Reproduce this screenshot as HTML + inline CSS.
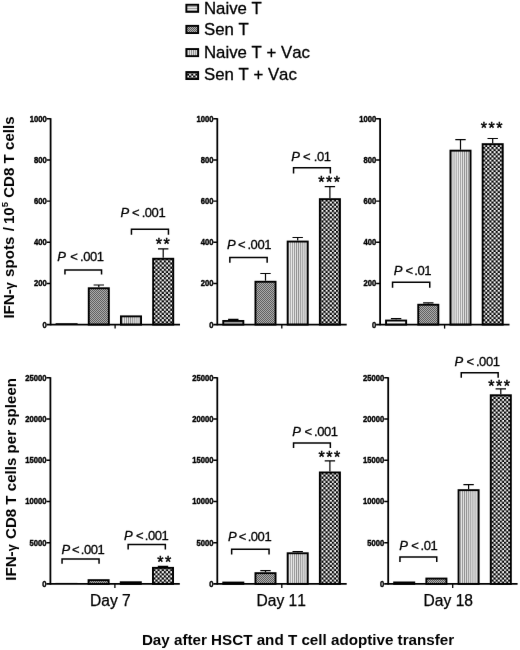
<!DOCTYPE html>
<html><head><meta charset="utf-8"><title>Figure</title>
<style>
html,body{margin:0;padding:0;background:#fff;}
body{width:520px;height:650px;overflow:hidden;}
svg{display:block;}
text{font-family:"Liberation Sans",sans-serif;fill:#000;font-kerning:none;}
.tk{font-weight:bold;font-size:8.5px;text-anchor:end;stroke:#000;stroke-width:0.4px;}
.an{font-size:13px;letter-spacing:-0.45px;stroke:#000;stroke-width:0.3px;}
.pi{font-size:13px;font-style:italic;stroke:#000;stroke-width:0.3px;}
.st{font-size:16px;text-anchor:middle;stroke:#000;stroke-width:0.45px;}
.day{font-size:15.6px;stroke:#000;stroke-width:0.25px;}
.lg{font-size:16.8px;stroke:#000;stroke-width:0.3px;}
.yt{font-weight:bold;font-size:15.1px;}
.xt{font-weight:bold;font-size:15.2px;}
</style></head><body>
<svg width="520" height="650" viewBox="0 0 520 650">
<defs>
<pattern id="pN" width="4" height="2" patternUnits="userSpaceOnUse"><rect width="4" height="2" fill="#e6e6e6"/><rect y="0" width="4" height="0.9" fill="#9a9a9a"/></pattern>
<pattern id="pS" width="2" height="2" patternUnits="userSpaceOnUse"><rect width="2" height="2" fill="#b4b4b4"/><rect width="1" height="1" fill="#585858"/><rect x="1" y="1" width="1" height="1" fill="#585858"/></pattern>
<pattern id="pNV" width="2.1" height="4" patternUnits="userSpaceOnUse"><rect width="2.1" height="4" fill="#ececec"/><rect x="0" width="0.9" height="4" fill="#8a8a8a"/></pattern>
<pattern id="pSV" width="4.2" height="4.2" patternUnits="userSpaceOnUse"><rect width="4.2" height="4.2" fill="#000"/><rect x="2.2" y="0" width="2" height="2" fill="#fff"/><rect x="0.1" y="2.1" width="2" height="2" fill="#fff"/></pattern>
<filter id="soft" x="0" y="0" width="520" height="650" filterUnits="userSpaceOnUse" color-interpolation-filters="sRGB"><feConvolveMatrix order="3" kernelMatrix="0.0016 0.0371 0.0016 0.0371 0.8450 0.0371 0.0016 0.0371 0.0016" edgeMode="duplicate" preserveAlpha="true"/></filter>
</defs>
<g filter="url(#soft)">
<rect width="520" height="650" fill="#fff"/>

<g id="legend">
<rect x="186.35" y="4.75" width="11.8" height="7.1" fill="url(#pN)" stroke="#000" stroke-width="1.9"/>
<text class="lg" x="204" y="13.5">Naive T</text>
<rect x="186.35" y="25.85" width="11.8" height="7.2" fill="url(#pS)" stroke="#000" stroke-width="1.9"/>
<text class="lg" x="204" y="34.7">Sen T</text>
<rect x="186.35" y="49.05" width="11.8" height="7.1" fill="url(#pNV)" stroke="#000" stroke-width="1.9"/>
<text class="lg" x="204" y="57.8">Naive T + Vac</text>
<rect x="186.35" y="72.05" width="11.8" height="7" fill="url(#pSV)" stroke="#000" stroke-width="1.9"/>
<text class="lg" x="204" y="80.4">Sen T + Vac</text>
</g>
<g id="T1">
<rect x="55.6" y="323.1" width="22" height="1.5" fill="#222"/>
<path d="M98.8 287.3 V285 M93.6 285 H104" stroke="#000" stroke-width="1.2" fill="none"/>
<rect x="88.75" y="288.25" width="20.1" height="36.35" fill="url(#pS)" stroke="#000" stroke-width="1.9"/>
<rect x="120.95" y="316.35" width="20.1" height="8.25" fill="url(#pNV)" stroke="#000" stroke-width="1.9"/>
<path d="M163.2 257.8 V248.8 M158 248.8 H168.4" stroke="#000" stroke-width="1.2" fill="none"/>
<rect x="153.15" y="258.75" width="20.1" height="65.85" fill="url(#pSV)" stroke="#000" stroke-width="1.9"/>
<path d="M50.6 118.2 V325.3" stroke="#000" stroke-width="1.8" fill="none"/>
<path d="M46.6 324.6 H180" stroke="#000" stroke-width="1.6" fill="none"/>
<path d="M115.1 324.6 V328.6" stroke="#000" stroke-width="1.3" fill="none"/>
<path d="M46.6 283.44 H50.6M46.6 242.28 H50.6M46.6 201.12 H50.6M46.6 159.96 H50.6M46.6 118.8 H50.6" stroke="#000" stroke-width="1.4" fill="none"/>
<text class="tk" transform="translate(46.7 327.6) scale(0.9 1)">0</text>
<text class="tk" transform="translate(46.7 286.44) scale(0.9 1)">200</text>
<text class="tk" transform="translate(46.7 245.28) scale(0.9 1)">400</text>
<text class="tk" transform="translate(46.7 204.12) scale(0.9 1)">600</text>
<text class="tk" transform="translate(46.7 162.96) scale(0.9 1)">800</text>
<text class="tk" transform="translate(46.7 121.8) scale(0.9 1)">1000</text>
</g>
<g id="T2">
<path d="M233.3 320 V319.4 M228.1 319.4 H238.5" stroke="#000" stroke-width="1.2" fill="none"/>
<rect x="223.25" y="320.95" width="20.1" height="3.65" fill="url(#pN)" stroke="#000" stroke-width="1.9"/>
<path d="M265.5 280.8 V273.5 M260.3 273.5 H270.7" stroke="#000" stroke-width="1.2" fill="none"/>
<rect x="255.45" y="281.75" width="20.1" height="42.85" fill="url(#pS)" stroke="#000" stroke-width="1.9"/>
<path d="M297.7 240.6 V237.5 M292.5 237.5 H302.9" stroke="#000" stroke-width="1.2" fill="none"/>
<rect x="287.65" y="241.55" width="20.1" height="83.05" fill="url(#pNV)" stroke="#000" stroke-width="1.9"/>
<path d="M329.9 198.2 V186.6 M324.7 186.6 H335.1" stroke="#000" stroke-width="1.2" fill="none"/>
<rect x="319.85" y="199.15" width="20.1" height="125.45" fill="url(#pSV)" stroke="#000" stroke-width="1.9"/>
<path d="M217.3 118.2 V325.3" stroke="#000" stroke-width="1.8" fill="none"/>
<path d="M213.3 324.6 H346.7" stroke="#000" stroke-width="1.6" fill="none"/>
<path d="M281.8 324.6 V328.6" stroke="#000" stroke-width="1.3" fill="none"/>
<path d="M213.3 283.44 H217.3M213.3 242.28 H217.3M213.3 201.12 H217.3M213.3 159.96 H217.3M213.3 118.8 H217.3" stroke="#000" stroke-width="1.4" fill="none"/>
<text class="tk" transform="translate(213.4 327.6) scale(0.9 1)">0</text>
<text class="tk" transform="translate(213.4 286.44) scale(0.9 1)">200</text>
<text class="tk" transform="translate(213.4 245.28) scale(0.9 1)">400</text>
<text class="tk" transform="translate(213.4 204.12) scale(0.9 1)">600</text>
<text class="tk" transform="translate(213.4 162.96) scale(0.9 1)">800</text>
<text class="tk" transform="translate(213.4 121.8) scale(0.9 1)">1000</text>
</g>
<g id="T3">
<path d="M396.1 319.6 V318.6 M390.9 318.6 H401.3" stroke="#000" stroke-width="1.2" fill="none"/>
<rect x="386.05" y="320.55" width="20.1" height="4.05" fill="#f6f6f6" stroke="#000" stroke-width="1.9"/>
<path d="M428.3 303.8 V302.9 M423.1 302.9 H433.5" stroke="#000" stroke-width="1.2" fill="none"/>
<rect x="418.25" y="304.75" width="20.1" height="19.85" fill="url(#pS)" stroke="#000" stroke-width="1.9"/>
<path d="M460.5 149.7 V139.6 M455.3 139.6 H465.7" stroke="#000" stroke-width="1.2" fill="none"/>
<rect x="450.45" y="150.65" width="20.1" height="173.95" fill="url(#pNV)" stroke="#000" stroke-width="1.9"/>
<path d="M492.7 143.2 V138.5 M487.5 138.5 H497.9" stroke="#000" stroke-width="1.2" fill="none"/>
<rect x="482.65" y="144.15" width="20.1" height="180.45" fill="url(#pSV)" stroke="#000" stroke-width="1.9"/>
<path d="M380.1 118.2 V325.3" stroke="#000" stroke-width="1.8" fill="none"/>
<path d="M376.1 324.6 H509.5" stroke="#000" stroke-width="1.6" fill="none"/>
<path d="M444.6 324.6 V328.6" stroke="#000" stroke-width="1.3" fill="none"/>
<path d="M376.1 283.44 H380.1M376.1 242.28 H380.1M376.1 201.12 H380.1M376.1 159.96 H380.1M376.1 118.8 H380.1" stroke="#000" stroke-width="1.4" fill="none"/>
<text class="tk" transform="translate(376.2 327.6) scale(0.9 1)">0</text>
<text class="tk" transform="translate(376.2 286.44) scale(0.9 1)">200</text>
<text class="tk" transform="translate(376.2 245.28) scale(0.9 1)">400</text>
<text class="tk" transform="translate(376.2 204.12) scale(0.9 1)">600</text>
<text class="tk" transform="translate(376.2 162.96) scale(0.9 1)">800</text>
<text class="tk" transform="translate(376.2 121.8) scale(0.9 1)">1000</text>
</g>
<g id="B1">
<rect x="55.4" y="582.9" width="22" height="1" fill="#222"/>
<rect x="88.55" y="580.15" width="20.1" height="3.75" fill="url(#pS)" stroke="#000" stroke-width="1.9"/>
<rect x="120.75" y="582.25" width="20.1" height="1.65" fill="url(#pNV)" stroke="#000" stroke-width="1.9"/>
<path d="M163 566.9 V566.3 M157.8 566.3 H168.2" stroke="#000" stroke-width="1.2" fill="none"/>
<rect x="152.95" y="567.85" width="20.1" height="16.05" fill="url(#pSV)" stroke="#000" stroke-width="1.9"/>
<path d="M50.4 377.2 V584.6" stroke="#000" stroke-width="1.8" fill="none"/>
<path d="M46.4 583.9 H179.8" stroke="#000" stroke-width="1.6" fill="none"/>
<path d="M114.9 583.9 V587.9" stroke="#000" stroke-width="1.3" fill="none"/>
<path d="M46.4 542.68 H50.4M46.4 501.46 H50.4M46.4 460.24 H50.4M46.4 419.02 H50.4M46.4 377.8 H50.4" stroke="#000" stroke-width="1.4" fill="none"/>
<text class="tk" transform="translate(46.5 586.9) scale(0.9 1)">0</text>
<text class="tk" transform="translate(46.5 545.68) scale(0.9 1)">5000</text>
<text class="tk" transform="translate(46.5 504.46) scale(0.9 1)">10000</text>
<text class="tk" transform="translate(46.5 463.24) scale(0.9 1)">15000</text>
<text class="tk" transform="translate(46.5 422.02) scale(0.9 1)">20000</text>
<text class="tk" transform="translate(46.5 380.8) scale(0.9 1)">25000</text>
</g>
<g id="B2">
<rect x="223.25" y="582.55" width="20.1" height="1.35" fill="url(#pN)" stroke="#000" stroke-width="1.9"/>
<path d="M265.5 572.2 V570.7 M260.3 570.7 H270.7" stroke="#000" stroke-width="1.2" fill="none"/>
<rect x="255.45" y="573.15" width="20.1" height="10.75" fill="url(#pS)" stroke="#000" stroke-width="1.9"/>
<path d="M297.7 552.3 V551.5 M292.5 551.5 H302.9" stroke="#000" stroke-width="1.2" fill="none"/>
<rect x="287.65" y="553.25" width="20.1" height="30.65" fill="url(#pNV)" stroke="#000" stroke-width="1.9"/>
<path d="M329.9 471.5 V460.8 M324.7 460.8 H335.1" stroke="#000" stroke-width="1.2" fill="none"/>
<rect x="319.85" y="472.45" width="20.1" height="111.45" fill="url(#pSV)" stroke="#000" stroke-width="1.9"/>
<path d="M217.3 377.2 V584.6" stroke="#000" stroke-width="1.8" fill="none"/>
<path d="M213.3 583.9 H346.7" stroke="#000" stroke-width="1.6" fill="none"/>
<path d="M281.8 583.9 V587.9" stroke="#000" stroke-width="1.3" fill="none"/>
<path d="M213.3 542.68 H217.3M213.3 501.46 H217.3M213.3 460.24 H217.3M213.3 419.02 H217.3M213.3 377.8 H217.3" stroke="#000" stroke-width="1.4" fill="none"/>
<text class="tk" transform="translate(213.4 586.9) scale(0.9 1)">0</text>
<text class="tk" transform="translate(213.4 545.68) scale(0.9 1)">5000</text>
<text class="tk" transform="translate(213.4 504.46) scale(0.9 1)">10000</text>
<text class="tk" transform="translate(213.4 463.24) scale(0.9 1)">15000</text>
<text class="tk" transform="translate(213.4 422.02) scale(0.9 1)">20000</text>
<text class="tk" transform="translate(213.4 380.8) scale(0.9 1)">25000</text>
</g>
<g id="B3">
<rect x="394.15" y="582.45" width="20.1" height="1.45" fill="url(#pN)" stroke="#000" stroke-width="1.9"/>
<rect x="426.35" y="578.55" width="20.1" height="5.35" fill="url(#pS)" stroke="#000" stroke-width="1.9"/>
<path d="M468.6 489.2 V484.6 M463.4 484.6 H473.8" stroke="#000" stroke-width="1.2" fill="none"/>
<rect x="458.55" y="490.15" width="20.1" height="93.75" fill="url(#pNV)" stroke="#000" stroke-width="1.9"/>
<path d="M500.8 394.3 V388.9 M495.6 388.9 H506" stroke="#000" stroke-width="1.2" fill="none"/>
<rect x="490.75" y="395.25" width="20.1" height="188.65" fill="url(#pSV)" stroke="#000" stroke-width="1.9"/>
<path d="M388.2 377.2 V584.6" stroke="#000" stroke-width="1.8" fill="none"/>
<path d="M384.2 583.9 H517.6" stroke="#000" stroke-width="1.6" fill="none"/>
<path d="M452.7 583.9 V587.9" stroke="#000" stroke-width="1.3" fill="none"/>
<path d="M384.2 542.68 H388.2M384.2 501.46 H388.2M384.2 460.24 H388.2M384.2 419.02 H388.2M384.2 377.8 H388.2" stroke="#000" stroke-width="1.4" fill="none"/>
<text class="tk" transform="translate(384.3 586.9) scale(0.9 1)">0</text>
<text class="tk" transform="translate(384.3 545.68) scale(0.9 1)">5000</text>
<text class="tk" transform="translate(384.3 504.46) scale(0.9 1)">10000</text>
<text class="tk" transform="translate(384.3 463.24) scale(0.9 1)">15000</text>
<text class="tk" transform="translate(384.3 422.02) scale(0.9 1)">20000</text>
<text class="tk" transform="translate(384.3 380.8) scale(0.9 1)">25000</text>
</g>
<g id="ann">
<text class="pi" x="57.15" y="260.6">P</text><text class="an" x="70.2" y="260.6">&lt;</text><text class="an" x="80.06" y="260.6">.001</text>
<text class="pi" x="120.55" y="216.7">P</text><text class="an" x="132.1" y="216.7">&lt;</text><text class="an" x="141.66" y="216.7">.001</text>
<text class="pi" x="226.95" y="248.5">P</text><text class="an" x="237.9" y="248.5">&lt;</text><text class="an" x="247.46" y="248.5">.001</text>
<text class="pi" x="291.25" y="161.3">P</text><text class="an" x="303.1" y="161.3">&lt;</text><text class="an" x="313.76" y="161.3">.01</text>
<text class="pi" x="393.75" y="275.4">P</text><text class="an" x="405.4" y="275.4">&lt;</text><text class="an" x="414.36" y="275.4">.01</text>
<text class="pi" x="61.55" y="554.2">P</text><text class="an" x="71.9" y="554.2">&lt;</text><text class="an" x="80.86" y="554.2">.001</text>
<text class="pi" x="124.05" y="539.6">P</text><text class="an" x="135.9" y="539.6">&lt;</text><text class="an" x="144.76" y="539.6">.001</text>
<text class="pi" x="227.95" y="540.9">P</text><text class="an" x="238.8" y="540.9">&lt;</text><text class="an" x="247.66" y="540.9">.001</text>
<text class="pi" x="292.25" y="435.7">P</text><text class="an" x="304.5" y="435.7">&lt;</text><text class="an" x="314.06" y="435.7">.001</text>
<text class="pi" x="399.35" y="550.1">P</text><text class="an" x="411.2" y="550.1">&lt;</text><text class="an" x="420.56" y="550.1">.01</text>
<text class="pi" x="454.45" y="365.6">P</text><text class="an" x="466.5" y="365.6">&lt;</text><text class="an" x="475.96" y="365.6">.001</text>
<path d="M64.95 274.4 V270 H101.55 V274.4" stroke="#000" stroke-width="1.5" fill="none" stroke-linejoin="miter"/>
<path d="M131.45 234.7 V229.3 H168.45 V234.7" stroke="#000" stroke-width="1.5" fill="none" stroke-linejoin="miter"/>
<path d="M229.85 262.8 V257.4 H267.15 V262.8" stroke="#000" stroke-width="1.5" fill="none" stroke-linejoin="miter"/>
<path d="M293.55 173.4 V167.8 H330.35 V173.4" stroke="#000" stroke-width="1.5" fill="none" stroke-linejoin="miter"/>
<path d="M392.55 287.7 V282.3 H429.75 V287.7" stroke="#000" stroke-width="1.5" fill="none" stroke-linejoin="miter"/>
<path d="M62.05 563.8 V559 H99.05 V563.8" stroke="#000" stroke-width="1.5" fill="none" stroke-linejoin="miter"/>
<path d="M128.15 549.6 V544.6 H165.35 V549.6" stroke="#000" stroke-width="1.5" fill="none" stroke-linejoin="miter"/>
<path d="M231.65 554.6 V549.3 H269.05 V554.6" stroke="#000" stroke-width="1.5" fill="none" stroke-linejoin="miter"/>
<path d="M293.55 448 V443 H330.35 V448" stroke="#000" stroke-width="1.5" fill="none" stroke-linejoin="miter"/>
<path d="M399.95 562.1 V557 H436.75 V562.1" stroke="#000" stroke-width="1.5" fill="none" stroke-linejoin="miter"/>
<path d="M461.25 377.7 V372.8 H498.15 V377.7" stroke="#000" stroke-width="1.5" fill="none" stroke-linejoin="miter"/>
<text class="st" x="158.75" y="249.8">*</text>
<text class="st" x="166.55" y="249.8">*</text>
<text class="st" x="321.35" y="188">*</text>
<text class="st" x="329.15" y="188">*</text>
<text class="st" x="336.95" y="188">*</text>
<text class="st" x="483.8" y="133.5">*</text>
<text class="st" x="491.6" y="133.5">*</text>
<text class="st" x="499.4" y="133.5">*</text>
<text class="st" x="160.3" y="568.1">*</text>
<text class="st" x="168.1" y="568.1">*</text>
<text class="st" x="321.5" y="462.7">*</text>
<text class="st" x="329.3" y="462.7">*</text>
<text class="st" x="337.1" y="462.7">*</text>
<text class="st" x="491.3" y="392">*</text>
<text class="st" x="499.1" y="392">*</text>
<text class="st" x="506.9" y="392">*</text>
</g>
<text class="day" x="90" y="606.4">Day 7</text>
<text class="day" x="256.5" y="606.4">Day 11</text>
<text class="day" x="423.6" y="606.4">Day 18</text>
<text class="xt" x="141.9" y="644.5">Day after HSCT and T cell adoptive transfer</text>
<text class="yt" transform="translate(13.8 318.6) rotate(-90)">IFN-<tspan font-size="12.5px">γ</tspan><tspan dx="1.2"> spots</tspan><tspan dx="1.2"> /</tspan><tspan dx="-1.2"> 10</tspan><tspan font-size="9.5px" dy="-5.5">5</tspan><tspan dy="5.5"> CD8 T cells</tspan></text>
<text class="yt" transform="translate(16.2 580.7) rotate(-90)">IFN-<tspan font-size="12.5px">γ</tspan><tspan dx="1.2"> CD8</tspan> T cells per spleen</text>
</g></svg></body></html>
